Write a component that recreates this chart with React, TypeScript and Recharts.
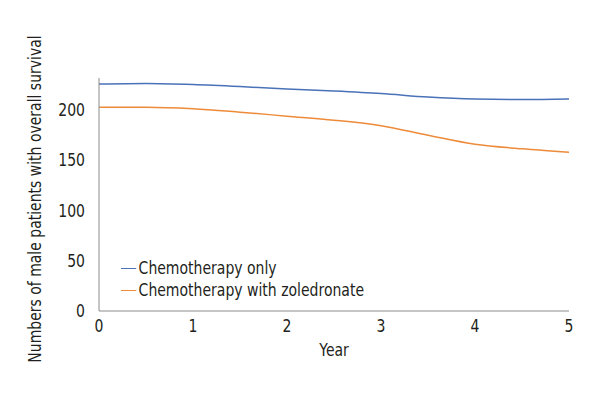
import React from 'react';
import { LineChart, Line, XAxis, YAxis, Legend, Label } from 'recharts';

const years = [0, 0.5, 1, 1.5, 2, 2.5, 3, 3.5, 4, 4.5, 5];
const chemoOnly = [226, 226.5, 225.5, 223.5, 221, 219, 216.5, 213, 211, 210.5, 211];
const chemoZoledronate = [203, 203, 201.5, 198, 194, 190, 184.5, 175, 166, 161.5, 158];
const xTicks = [0, 1, 2, 3, 4, 5];
const yTicks = [0, 50, 100, 150, 200];

const data = years.map((y, i) => ({
  year: y,
  only: chemoOnly[i],
  zol: chemoZoledronate[i],
}));

const FONT = '"DejaVu Sans", sans-serif';
const TEXT = '#231f20';
const SIZE = 17.5;
const SQUEEZE = 0.8; // fake a condensed face

// horizontally squeezed svg text around its anchor point
const Narrow = ({ x, y, anchor, children, rotate = 0, baseline }: any) => (
  <text
    transform={`translate(${x},${y}) rotate(${rotate}) scale(${SQUEEZE},1)`}
    textAnchor={anchor}
    dominantBaseline={baseline}
    fill={TEXT}
    fontSize={SIZE}
    fontFamily={FONT}
  >
    {children}
  </text>
);

const XTick = (props: any) => (
  <Narrow x={props.x} y={props.y + 6} anchor="middle" baseline="hanging">{props.payload.value}</Narrow>
);

const YTick = (props: any) => (
  <Narrow x={props.x - 12} y={props.y + 6} anchor="end">{props.payload.value}</Narrow>
);

const renderLegend = (props: any) => {
  const { payload } = props;
  return (
    <div style={{ fontFamily: FONT, fontSize: SIZE, lineHeight: '22px', color: TEXT, transform: `scale(${SQUEEZE},1)`, transformOrigin: 'left top' }}>
      {payload.map((entry: any) => (
        <div key={entry.value} style={{ display: 'flex', alignItems: 'center', whiteSpace: 'nowrap' }}>
          <span style={{ display: 'inline-block', width: 19, height: 0, borderTop: `1.5px solid ${entry.color}`, marginRight: 3 }} />
          <span>{entry.value}</span>
        </div>
      ))}
    </div>
  );
};

const App: React.FC = () => {
  return (
    <div style={{ position: 'absolute', left: 0, top: 0, width: 600, height: 400, background: '#fff' }}>
      <LineChart width={600} height={400} data={data} margin={{ top: 78, right: 31, bottom: 59, left: 49 }}>
        <XAxis
          dataKey="year"
          type="number"
          domain={[0, 5]}
          ticks={xTicks}
          tickLine={false}
          tickSize={0}
          stroke="#8c8c8c"
          tick={<XTick />}
        >
          <Label
            content={({ viewBox }: any) => (
              <Narrow x={viewBox.x + viewBox.width / 2} y={viewBox.y + 45} anchor="middle">Year</Narrow>
            )}
          />
        </XAxis>
        <YAxis
          type="number"
          domain={[0, 232]}
          ticks={yTicks}
          width={50}
          tickLine={false}
          tickSize={0}
          stroke="#8c8c8c"
          tick={<YTick />}
        >
          <Label
            content={({ viewBox }: any) => (
              <Narrow x={viewBox.x - 8} y={199} anchor="middle" rotate={-90}>
                Numbers of male patients with overall survival
              </Narrow>
            )}
          />
        </YAxis>
        <Legend
          layout="vertical"
          verticalAlign="middle"
          align="center"
          content={renderLegend}
          wrapperStyle={{ position: 'absolute', left: 121, top: 257, width: 350 }}
        />
        <Line
          type="monotone"
          dataKey="only"
          name="Chemotherapy only"
          stroke="#4a72b8"
          strokeWidth={1.5}
          dot={false}
          isAnimationActive={false}
        />
        <Line
          type="monotone"
          dataKey="zol"
          name="Chemotherapy with zoledronate"
          stroke="#ed8b3a"
          strokeWidth={1.5}
          dot={false}
          isAnimationActive={false}
        />
      </LineChart>
    </div>
  );
};

export default App;
